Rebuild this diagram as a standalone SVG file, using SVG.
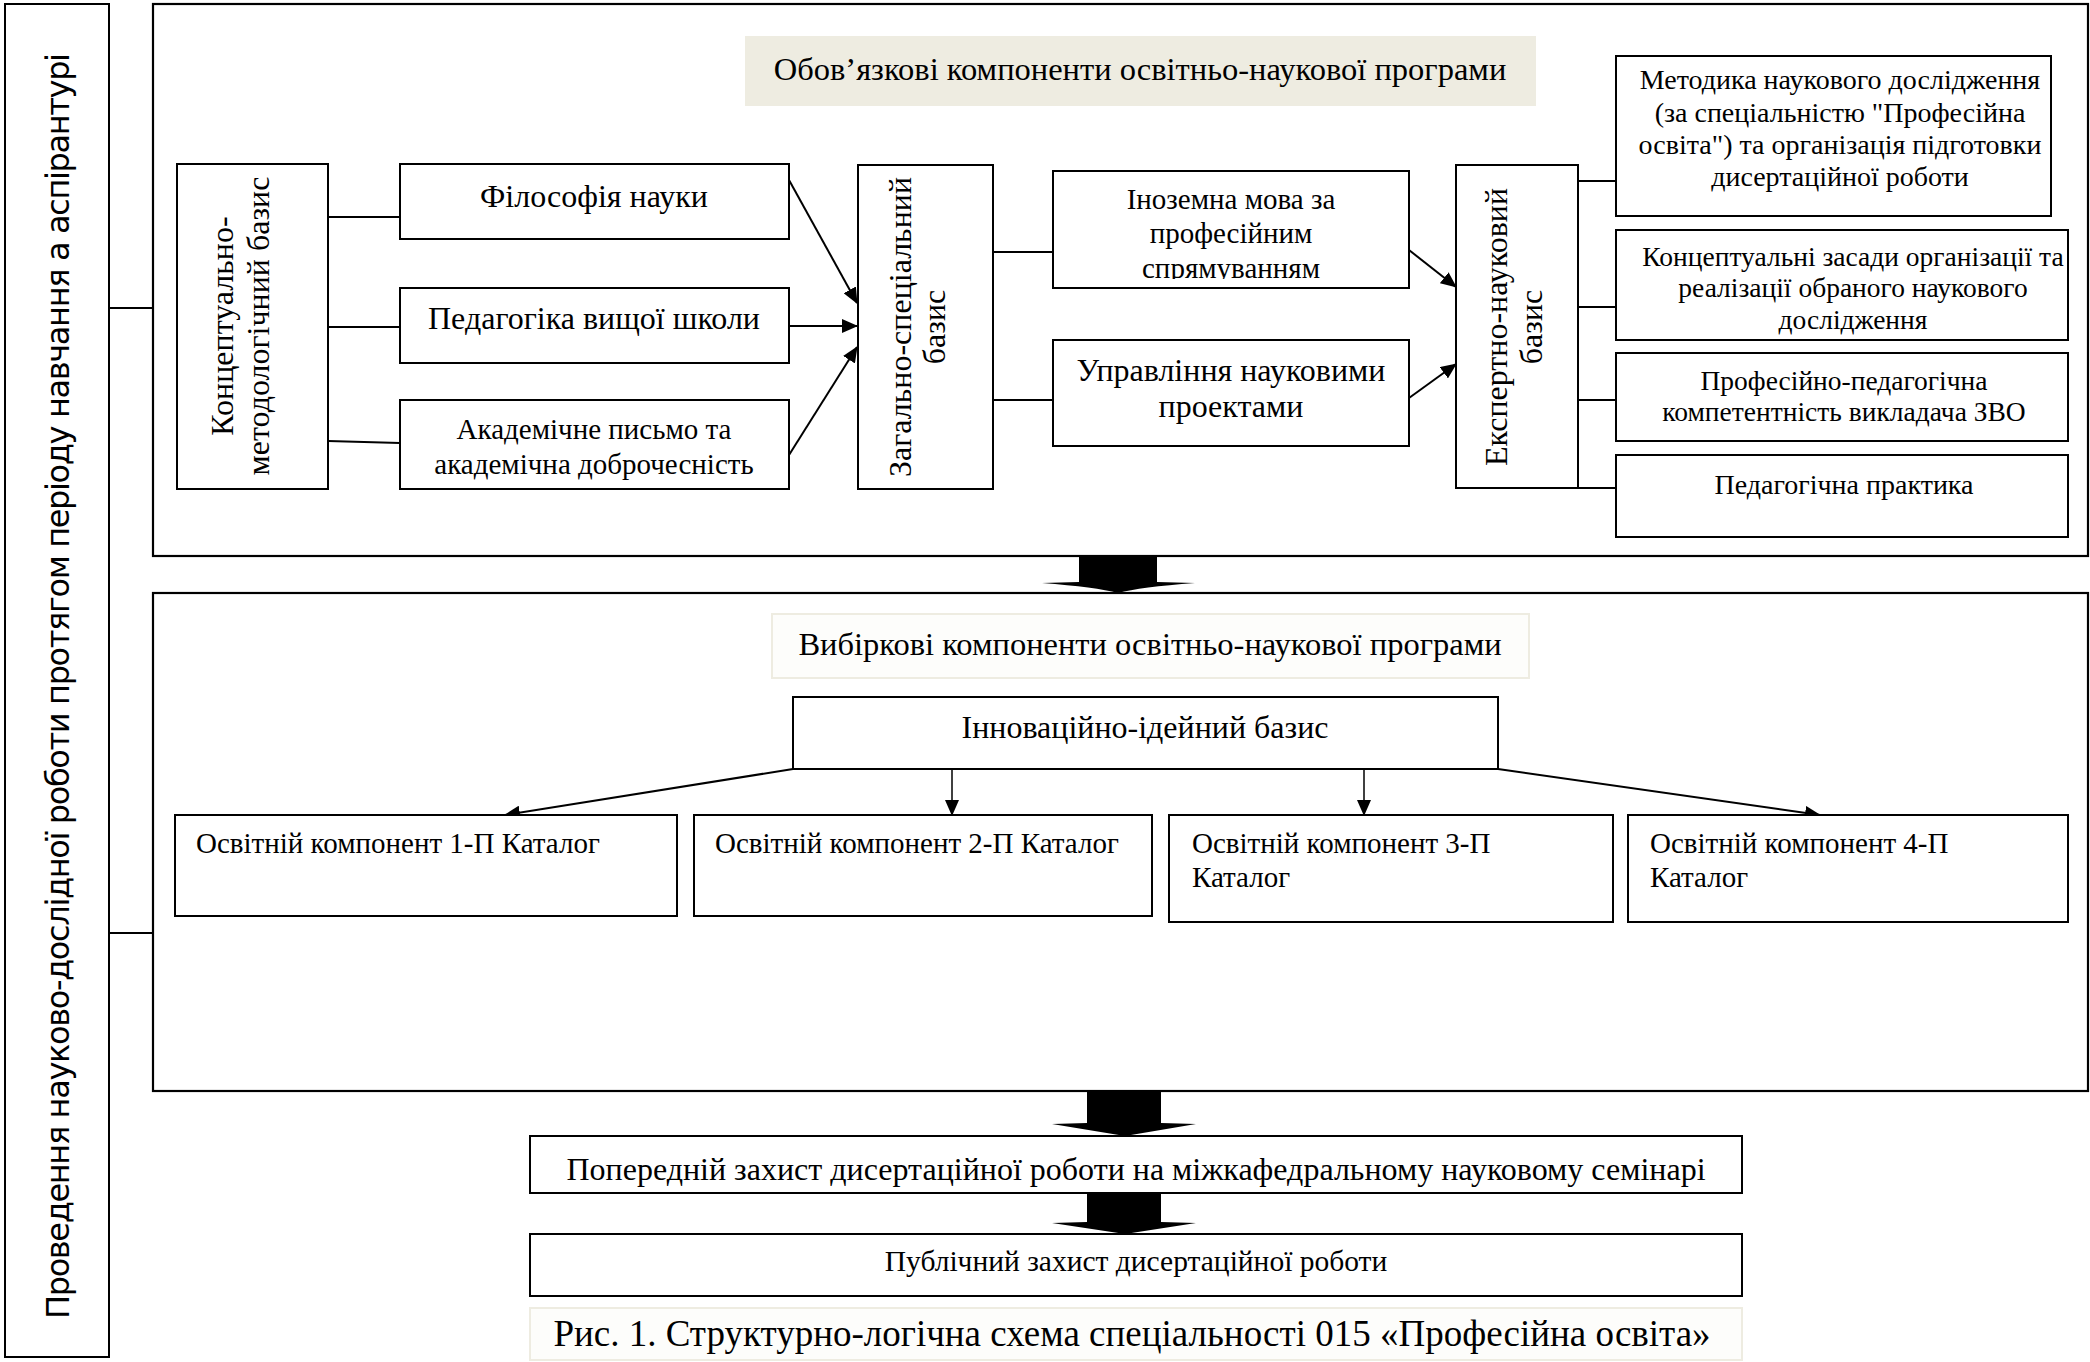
<svg xmlns="http://www.w3.org/2000/svg" width="2090" height="1362" viewBox="0 0 2090 1362">
<defs>
<marker id="ah" markerUnits="userSpaceOnUse" markerWidth="16" markerHeight="14" refX="15" refY="7" orient="auto"><path d="M0,0 L16,7 L0,14 z" fill="#000"/></marker>
<clipPath id="clipIno"><rect x="1053" y="171" width="356" height="108"/></clipPath>
<style>
.box{fill:#fff;stroke:#000;stroke-width:2}
.big{fill:none;stroke:#000;stroke-width:2.2}
.t{font-family:"Liberation Serif","Times New Roman",serif;fill:#000}
.c{text-anchor:middle}
.f32{font-size:32px}
.f325{font-size:32.5px}
.f29{font-size:29px}
.f28{font-size:28px}
.f36{font-size:37px}
.ln{stroke:#000;stroke-width:2;fill:none}
.ar{stroke:#000;stroke-width:2;fill:none;marker-end:url(#ah)}
.lbl1{fill:#EEECE1;stroke:none}
.lbl2{fill:#FDFDFB;stroke:#EEECE1;stroke-width:2}
.blk{fill:#000;stroke:none}
</style>
</defs>
<rect x="0" y="0" width="2090" height="1362" fill="#fff"/>

<g id="connectors">
<path class="ln" d="M109,308 H153"/>
<path class="ln" d="M109,933 H153"/>
<path class="ln" d="M328,217 H400"/>
<path class="ln" d="M328,327 H400"/>
<path class="ln" d="M328,441 L400,443"/>
<path class="ar" d="M789,180 L857,303"/>
<path class="ar" d="M789,326 L857,326"/>
<path class="ar" d="M789,455 L857,347"/>
<path class="ln" d="M993,252 H1053"/>
<path class="ln" d="M993,400 H1053"/>
<path class="ar" d="M1409,250 L1456,287"/>
<path class="ar" d="M1409,398 L1456,364"/>
<path class="ln" d="M1578,181 H1616"/>
<path class="ln" d="M1578,307 H1616"/>
<path class="ln" d="M1578,400 H1616"/>
<path class="ln" d="M1578,488 H1616"/>
<path class="ar" d="M793,769 L505,815"/>
<path class="ar" style="stroke-width:1.5" d="M952,769 V815"/>
<path class="ar" style="stroke-width:1.5" d="M1364,769 V815"/>
<path class="ar" d="M1498,769 L1820,815"/>
<path class="blk" d="M1079,556 H1157 V582 L1195,583 Q1140,587 1118,593 Q1096,587 1042,583 L1079,582 Z"/>
<path class="blk" d="M1087,1091 H1161 V1123 L1196,1124 L1125,1136 L1052,1124 L1087,1123 Z"/>
<path class="blk" d="M1087,1193 H1161 V1222 L1196,1223 L1125,1234 L1052,1223 L1087,1222 Z"/>
</g>

<g id="left-frame">
<rect class="box" x="5" y="4" width="104" height="1353"/>
<text transform="translate(69,686) rotate(-90)" text-anchor="middle" font-family="DejaVu Sans, sans-serif" font-size="32" textLength="1266" lengthAdjust="spacing">Проведення науково-дослідної роботи протягом періоду навчання а аспірантурі</text>
</g>

<g id="mandatory-frame"><rect class="big" x="153" y="4" width="1935" height="552"/></g>
<g id="elective-frame"><rect class="big" x="153" y="593" width="1935" height="498"/></g>

<g id="mandatory-title">
<rect class="lbl1" x="745" y="36" width="791" height="70"/>
<text class="t c f325" x="1140" y="80">Обов’язкові компоненти освітньо-наукової програми</text>
</g>

<g id="conceptual-basis">
<rect class="box" x="177" y="164" width="151" height="325"/>
<text class="t c f32" transform="translate(251,326) rotate(-90)"><tspan x="0" y="-18">Концептуально-</tspan><tspan x="0" y="18">методологічний базис</tspan></text>
</g>
<g id="philosophy">
<rect class="box" x="400" y="164" width="389" height="75"/>
<text class="t c f32" x="594" y="207">Філософія науки</text>
</g>
<g id="pedagogy">
<rect class="box" x="400" y="288" width="389" height="75"/>
<text class="t c f32" x="594" y="329">Педагогіка вищої школи</text>
</g>
<g id="academic-writing">
<rect class="box" x="400" y="400" width="389" height="89"/>
<text class="t c f29" x="594" y="439">Академічне письмо та</text>
<text class="t c f29" x="594" y="474">академічна доброчесність</text>
</g>
<g id="general-basis">
<rect class="box" x="858" y="165" width="135" height="324"/>
<text class="t c f32" transform="translate(925,327) rotate(-90)"><tspan x="0" y="-14">Загально-спеціальний</tspan><tspan x="0" y="20">базис</tspan></text>
</g>
<g id="foreign-language">
<rect class="box" x="1053" y="171" width="356" height="117"/>
<g clip-path="url(#clipIno)">
<text class="t c f29" x="1231" y="209">Іноземна мова за</text>
<text class="t c f29" x="1231" y="243">професійним</text>
<text class="t c f29" x="1231" y="278">спрямуванням</text>
</g>
</g>
<g id="project-management">
<rect class="box" x="1053" y="340" width="356" height="106"/>
<text class="t c f32" x="1231" y="381">Управління науковими</text>
<text class="t c f32" x="1231" y="417">проектами</text>
</g>
<g id="expert-basis">
<rect class="box" x="1456" y="165" width="122" height="323"/>
<text class="t c f32" transform="translate(1517,327) rotate(-90)"><tspan x="0" y="-10">Експертно-науковий</tspan><tspan x="0" y="25">базис</tspan></text>
</g>
<g id="methodology">
<rect class="box" x="1616" y="56" width="435" height="160"/>
<text class="t c f28" x="1840" y="89">Методика наукового дослідження</text>
<text class="t c f28" x="1840" y="122">(за спеціальністю "Професійна</text>
<text class="t c f28" x="1840" y="154">освіта") та організація підготовки</text>
<text class="t c f28" x="1840" y="186">дисертаційної  роботи</text>
</g>
<g id="conceptual-principles">
<rect class="box" x="1616" y="230" width="452" height="110"/>
<text class="t c" style="font-size:27.5px" x="1853" y="266">Концептуальні засади організації та</text>
<text class="t c" style="font-size:27.5px" x="1853" y="297">реалізації обраного наукового</text>
<text class="t c" style="font-size:27.5px" x="1853" y="329">дослідження</text>
</g>
<g id="competence">
<rect class="box" x="1616" y="353" width="452" height="88"/>
<text class="t c" style="font-size:27.5px" x="1844" y="390">Професійно-педагогічна</text>
<text class="t c" style="font-size:27.5px" x="1844" y="421">компетентність викладача ЗВО</text>
</g>
<g id="teaching-practice">
<rect class="box" x="1616" y="455" width="452" height="82"/>
<text class="t c f28" x="1844" y="494">Педагогічна практика</text>
</g>

<g id="elective-title">
<rect class="lbl2" x="772" y="614" width="757" height="64"/>
<text class="t c f325" x="1150" y="655">Вибіркові компоненти освітньо-наукової програми</text>
</g>
<g id="innovation-basis">
<rect class="box" x="793" y="697" width="705" height="72"/>
<text class="t c f32" x="1145" y="738">Інноваційно-ідейний базис</text>
</g>
<g id="component-1">
<rect class="box" x="175" y="815" width="502" height="101"/>
<text class="t f29" x="196" y="853">Освітній компонент 1-П Каталог</text>
</g>
<g id="component-2">
<rect class="box" x="694" y="815" width="458" height="101"/>
<text class="t f29" x="715" y="853">Освітній компонент 2-П Каталог</text>
</g>
<g id="component-3">
<rect class="box" x="1169" y="815" width="444" height="107"/>
<text class="t f29" x="1192" y="853">Освітній компонент 3-П</text>
<text class="t f29" x="1192" y="887">Каталог</text>
</g>
<g id="component-4">
<rect class="box" x="1628" y="815" width="440" height="107"/>
<text class="t f29" x="1650" y="853">Освітній компонент 4-П</text>
<text class="t f29" x="1650" y="887">Каталог</text>
</g>

<g id="preliminary-defense">
<rect class="box" x="530" y="1136" width="1212" height="57"/>
<text class="t c f32" x="1136" y="1180">Попередній захист дисертаційної роботи на міжкафедральному науковому семінарі</text>
</g>
<g id="public-defense">
<rect class="box" x="530" y="1234" width="1212" height="62"/>
<text class="t c" style="font-size:29.5px" x="1136" y="1271">Публічний захист дисертаційної роботи</text>
</g>
<g id="caption">
<rect class="lbl2" x="530" y="1308" width="1212" height="52"/>
<text class="t c f36" x="1132" y="1346">Рис. 1. Структурно-логічна схема спеціальності 015 «Професійна освіта»</text>
</g>
</svg>
